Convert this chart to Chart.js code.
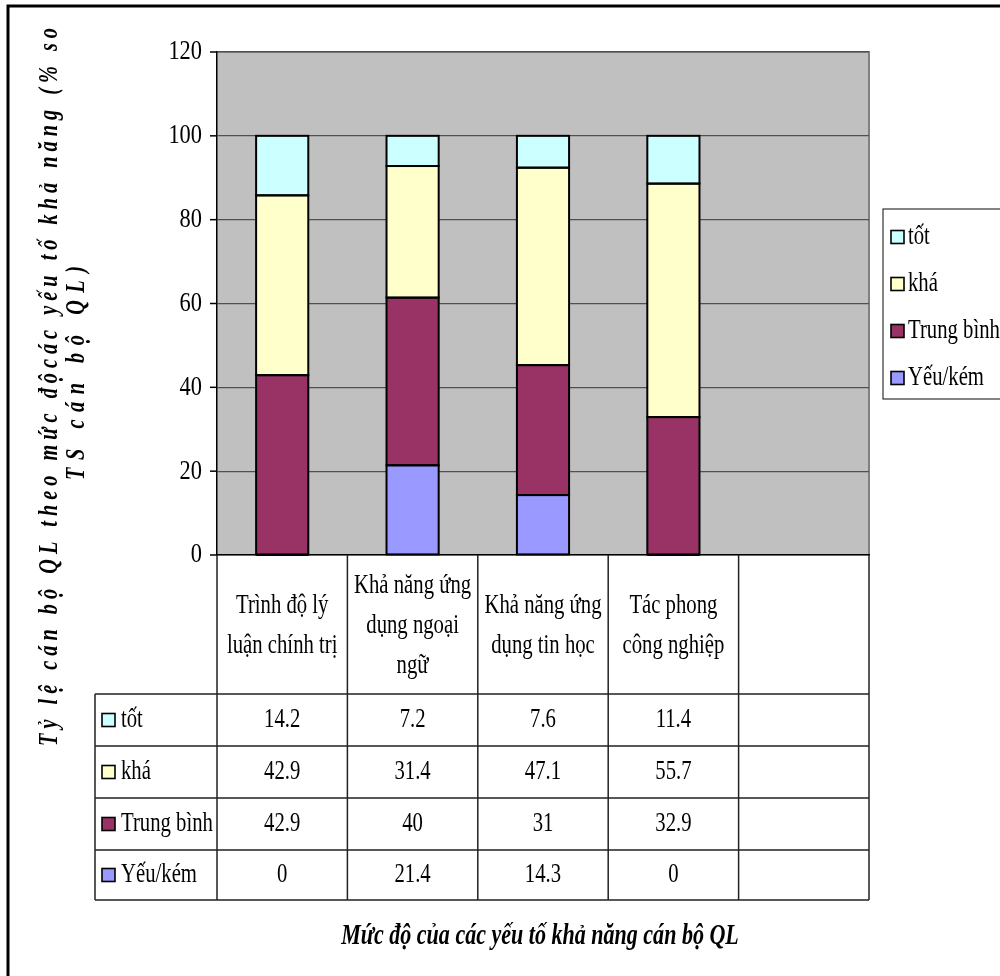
<!DOCTYPE html>
<html>
<head>
<meta charset="utf-8">
<script src="https://cdn.jsdelivr.net/npm/chart.js@4/dist/chart.umd.min.js"></script>
<style>
  html, body { margin: 0; padding: 0; background: #fff; }
  #wrap { width: 1000px; height: 976px; position: relative; }
</style>
</head>
<body>
<div id="wrap"><canvas id="c" width="1000" height="976"></canvas></div>
<script>
// Categories (multi-line labels shown in the data table header); last slot is empty
const categories = [
  ['Trình độ lý', 'luận chính trị'],
  ['Khả năng ứng', 'dụng ngoại', 'ngữ'],
  ['Khả năng ứng', 'dụng tin học'],
  ['Tác phong', 'công nghiệp'],
  ['']
];
// Series values (% of total managers)
const tot       = [14.2, 7.2, 7.6, 11.4, null];
const kha       = [42.9, 31.4, 47.1, 55.7, null];
const trungBinh = [42.9, 40, 31, 32.9, null];
const yeuKem    = [0, 21.4, 14.3, 0, null];
const seriesNames = ['tốt', 'khá', 'Trung bình', 'Yếu/kém'];
const seriesColors = ['#CCFFFF', '#FFFFCC', '#993366', '#9999FF'];
const yTicks = [0, 20, 40, 60, 80, 100, 120];
const xTitle = 'Mức độ của các yếu tố khả năng cán bộ QL';
const yTitle = ['Tỷ lệ cán bộ QL theo mức độcác yếu tố khả năng (% so', 'TS cán bộ QL)'];

const seriesValues = [tot, kha, trungBinh, yeuKem];
const SERIF = '"Liberation Serif", "Times New Roman", serif';
const SX = 0.74; // narrow glyph look

function text(ctx, s, x, y, font, align, sx) {
  ctx.save();
  ctx.font = font;
  ctx.textBaseline = 'middle';
  ctx.textAlign = align;
  ctx.fillStyle = '#000';
  ctx.translate(x, y);
  ctx.scale(sx, 1);
  ctx.fillText(s, 0, 0);
  ctx.restore();
}

// Rotated, letter-spaced, narrow text running from yStart (bottom) up to yEnd (top)
function spacedVertical(ctx, s, x, yStart, yEnd, font, sx) {
  ctx.save();
  ctx.font = font;
  ctx.fillStyle = '#000';
  ctx.textBaseline = 'middle';
  ctx.textAlign = 'left';
  const chars = Array.from(s);
  const widths = chars.map(c => ctx.measureText(c).width * sx);
  const natural = widths.reduce((a, b) => a + b, 0);
  const target = yStart - yEnd;
  const gap = (target - natural) / (chars.length - 1);
  ctx.translate(x, yStart);
  ctx.rotate(-Math.PI / 2);
  let p = 0;
  chars.forEach((c, i) => {
    ctx.save();
    ctx.translate(p, 0);
    ctx.scale(sx, 1);
    ctx.fillText(c, 0, 0);
    ctx.restore();
    p += widths[i] + gap;
  });
  ctx.restore();
}

function keyBox(ctx, x, y, color) {
  ctx.save();
  ctx.fillStyle = color;
  ctx.fillRect(x, y - 6.5, 13, 13);
  ctx.strokeStyle = '#000';
  ctx.lineWidth = 1.6;
  ctx.strokeRect(x, y - 6.5, 13, 13);
  ctx.restore();
}

const framePlugin = {
  id: 'frame',
  beforeDraw(chart) {
    // grey plot area with its grey top/right edge
    const { ctx, chartArea: a } = chart;
    ctx.save();
    ctx.fillStyle = '#C0C0C0';
    ctx.fillRect(a.left, a.top, a.right - a.left, a.bottom - a.top);
    ctx.strokeStyle = '#808080';
    ctx.lineWidth = 2;
    ctx.beginPath();
    ctx.moveTo(a.left, a.top); ctx.lineTo(a.right, a.top); ctx.lineTo(a.right, a.bottom);
    ctx.stroke();
    ctx.restore();
  },
  afterDatasetsDraw(chart) {
    // crisp black outlines around every bar segment
    const { ctx } = chart;
    ctx.save();
    ctx.strokeStyle = '#000';
    ctx.lineWidth = 2;
    chart.data.datasets.forEach((ds, di) => {
      chart.getDatasetMeta(di).data.forEach((el, i) => {
        if (ds.data[i] === null) return;
        const top = Math.min(el.y, el.base), h = Math.abs(el.base - el.y);
        ctx.strokeRect(el.x - el.width / 2, top, el.width, h);
      });
    });
    ctx.restore();
  },
  afterDraw(chart) {
    const { ctx, chartArea: a } = chart;
    const ys = chart.scales.y, xs = chart.scales.x;

    // y-axis tick marks and labels
    ctx.save();
    ctx.strokeStyle = '#000';
    ctx.lineWidth = 1.5;
    yTicks.forEach(v => {
      const py = ys.getPixelForValue(v);
      ctx.beginPath(); ctx.moveTo(a.left - 7, py); ctx.lineTo(a.left, py); ctx.stroke();
      text(ctx, String(v), a.left - 15, py, '28px ' + SERIF, 'right', 0.8);
    });
    ctx.restore();

    // data table
    const n = categories.length;
    const colEdges = [];
    for (let i = 0; i <= n; i++) colEdges.push(a.left + (a.right - a.left) * i / n);
    const headBottom = 694;
    const rowEdges = [694, 746, 798, 850, 900];
    const tableLeft = 95;
    ctx.save();
    ctx.strokeStyle = '#222';
    ctx.lineWidth = 1.5;
    ctx.beginPath();
    colEdges.forEach(x => { ctx.moveTo(x, a.bottom); ctx.lineTo(x, rowEdges[rowEdges.length - 1]); });
    ctx.moveTo(tableLeft, rowEdges[0]); ctx.lineTo(tableLeft, rowEdges[rowEdges.length - 1]);
    rowEdges.forEach(y => { ctx.moveTo(tableLeft, y); ctx.lineTo(colEdges[n], y); });
    ctx.stroke();
    ctx.restore();

    // header labels
    categories.forEach((lines, i) => {
      const cx = xs.getPixelForValue(i);
      const lh = 40;
      const cy = (a.bottom + headBottom) / 2 + 1;
      lines.forEach((s, k) => {
        text(ctx, s, cx, cy + (k - (lines.length - 1) / 2) * lh, '28px ' + SERIF, 'center', SX);
      });
    });

    // table rows: legend key + values
    seriesNames.forEach((name, r) => {
      const cy = (rowEdges[r] + rowEdges[r + 1]) / 2;
      keyBox(ctx, 102, cy, seriesColors[r]);
      text(ctx, name, 121, cy, '28px ' + SERIF, 'left', SX);
      seriesValues[r].forEach((v, i) => {
        if (v === null) return;
        text(ctx, String(v), xs.getPixelForValue(i), cy, '28px ' + SERIF, 'center', SX);
      });
    });

    // legend
    ctx.save();
    ctx.fillStyle = '#fff';
    ctx.fillRect(883, 209, 130, 190);
    ctx.strokeStyle = '#333';
    ctx.lineWidth = 1.2;
    ctx.strokeRect(883, 209, 130, 190);
    ctx.restore();
    const legendY = [237, 284, 331, 378];
    seriesNames.forEach((name, r) => {
      keyBox(ctx, 891, legendY[r], seriesColors[r]);
      text(ctx, name, 908, legendY[r], '28px ' + SERIF, 'left', SX);
    });

    // axis titles
    text(ctx, xTitle, 540, 937, 'italic bold 29px ' + SERIF, 'center', 0.76);
    spacedVertical(ctx, yTitle[0], 50, 746, 28, 'italic bold 27px ' + SERIF, 0.75);
    spacedVertical(ctx, yTitle[1], 77, 480, 266, 'italic bold 27px ' + SERIF, 0.75);

    // outer frame (left and top edges visible)
    ctx.save();
    ctx.strokeStyle = '#000';
    ctx.lineWidth = 3;
    ctx.strokeRect(8, 6, 1010, 1000);
    ctx.restore();
  }
};

const datasets = [
  { label: seriesNames[3], data: yeuKem, backgroundColor: seriesColors[3] },
  { label: seriesNames[2], data: trungBinh, backgroundColor: seriesColors[2] },
  { label: seriesNames[1], data: kha, backgroundColor: seriesColors[1] },
  { label: seriesNames[0], data: tot, backgroundColor: seriesColors[0] }
].map(d => Object.assign(d, { borderWidth: 0, categoryPercentage: 1, barPercentage: 0.4 }));

new Chart(document.getElementById('c'), {
  type: 'bar',
  data: { labels: categories.map(l => l.join(' ')), datasets },
  options: {
    responsive: false,
    animation: false,
    devicePixelRatio: 1,
    layout: { padding: { left: 217, right: 131, top: 52, bottom: 421 } },
    plugins: { legend: { display: false }, tooltip: { enabled: false } },
    scales: {
      x: {
        stacked: true, offset: true,
        ticks: { display: false },
        grid: { display: false, drawTicks: false },
        border: { display: true, color: '#000', width: 1.5 }
      },
      y: {
        stacked: true, min: 0, max: 120,
        ticks: { display: false, stepSize: 20 },
        grid: { color: '#505050', lineWidth: 1.2, drawTicks: false },
        border: { color: '#000', width: 1.5 }
      }
    }
  },
  plugins: [framePlugin]
});
</script>
</body>
</html>
